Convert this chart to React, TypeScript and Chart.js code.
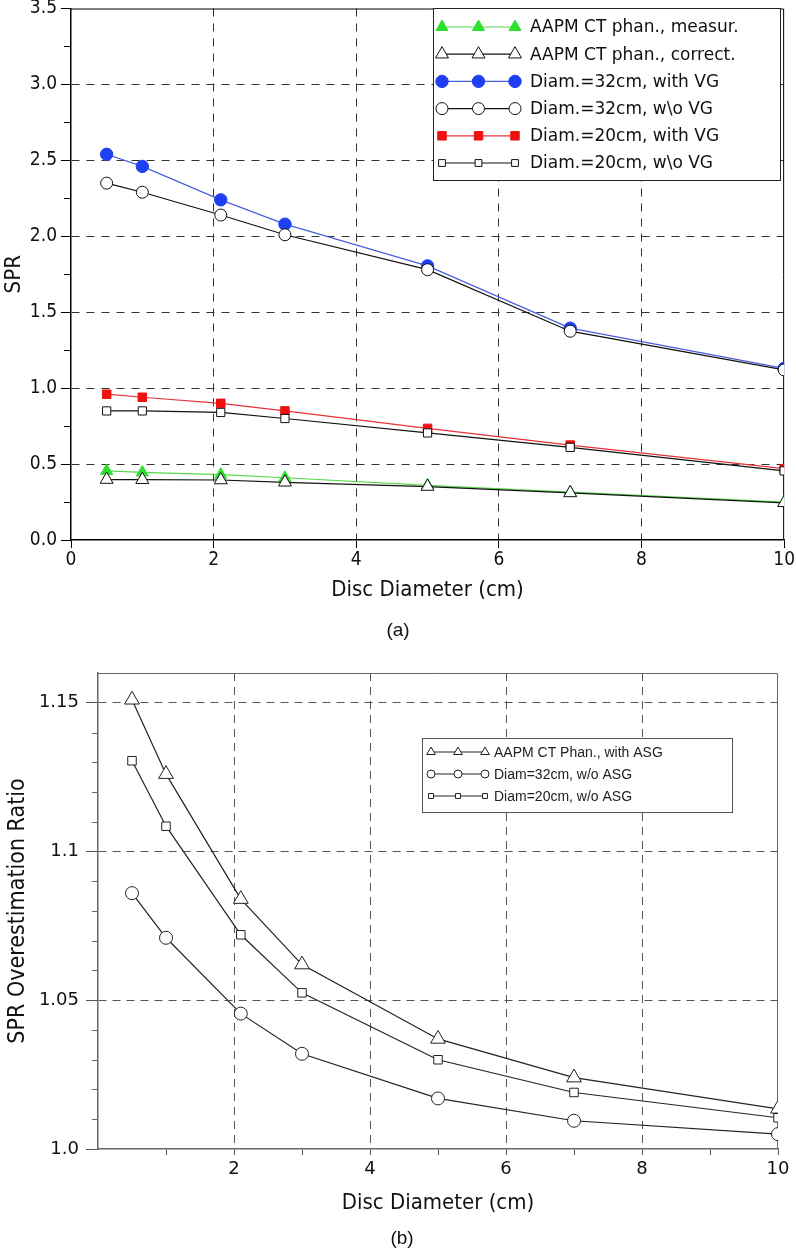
import React, { useEffect, useRef } from 'react';
import { Chart, registerables, PointElement } from 'chart.js';
Chart.register(...registerables);

// ---------- data: panel (a) ----------
const discDiameters = [0.5, 1, 2.1, 3, 5, 7, 10];
const aapmMeasured = [0.455, 0.445, 0.43, 0.41, 0.36, 0.315, 0.25];
const aapmCorrected = [0.398, 0.397, 0.395, 0.38, 0.352, 0.31, 0.245];
const d32WithVG = [2.54, 2.46, 2.24, 2.08, 1.805, 1.395, 1.13];
const d32WithoutVG = [2.35, 2.29, 2.14, 2.01, 1.78, 1.375, 1.12];
const d20WithVG = [0.96, 0.94, 0.9, 0.85, 0.735, 0.625, 0.47];
const d20WithoutVG = [0.85, 0.85, 0.84, 0.8, 0.705, 0.61, 0.455];
const topLegendLabels = [
  'AAPM CT phan., measur.',
  'AAPM CT phan., correct.',
  'Diam.=32cm, with VG',
  'Diam.=32cm, w\\o VG',
  'Diam.=20cm, with VG',
  'Diam.=20cm, w\\o VG',
];
const sprTickValues = [0, 0.5, 1, 1.5, 2, 2.5, 3, 3.5];
const sprTickLabels = ['0.0', '0.5', '1.0', '1.5', '2.0', '2.5', '3.0', '3.5'];
const sprMinorTickValues = [0.25, 0.75, 1.25, 1.75, 2.25, 2.75, 3.25];
const topXTickValues = [0, 2, 4, 6, 8, 10];
const topXTickLabels = ['0', '2', '4', '6', '8', '10'];

// ---------- data: panel (b) ----------
const ratioAAPM = [1.151, 1.126, 1.084, 1.062, 1.037, 1.024, 1.0135];
const ratio32 = [1.086, 1.071, 1.0455, 1.032, 1.017, 1.0095, 1.005];
const ratio20 = [1.1305, 1.1085, 1.072, 1.0525, 1.03, 1.019, 1.0105];
const bottomLegendLabels = ['AAPM CT Phan., with ASG', 'Diam=32cm, w/o ASG', 'Diam=20cm, w/o ASG'];
const ratioTickValues = [1.0, 1.05, 1.1, 1.15];
const ratioTickLabels = ['1.0', '1.05', '1.1', '1.15'];
const ratioMinorTickValues = [1.01, 1.02, 1.03, 1.04, 1.06, 1.07, 1.08, 1.09, 1.11, 1.12, 1.13, 1.14];
const bottomXTickValues = [1, 2, 3, 4, 5, 6, 7, 8, 9, 10];
const bottomXTickLabels = ['', '2', '', '4', '', '6', '', '8', '', '10'];

// ---------- styles ----------
const FONT_A = "'DejaVu Sans Condensed', 'DejaVu Sans', sans-serif";
const FONT_A_LEG = "'DejaVu Sans', sans-serif";
const FONT_B = "'DejaVu Sans', sans-serif";
const FONT_B_TITLE = "'DejaVu Sans Condensed', 'DejaVu Sans', sans-serif";
const FONT_B_LEG = "'Liberation Sans', Arial, sans-serif";

type Sty = { line: string; ps: string; r: number; lr: number; bg: string; bc: string; order: number };
const topStyles: Sty[] = [
  { line: '#5ad84c', ps: 'triangle', r: 7, lr: 7, bg: '#2de02d', bc: '#2de02d', order: 1 },
  { line: '#111111', ps: 'triangle', r: 7.5, lr: 7.5, bg: '#ffffff', bc: '#111111', order: 0 },
  { line: '#4a5ee0', ps: 'circle', r: 6.2, lr: 6.2, bg: '#1f3ff0', bc: '#1f3ff0', order: 1 },
  { line: '#111111', ps: 'circle', r: 6, lr: 6, bg: '#ffffff', bc: '#111111', order: 0 },
  { line: '#e8323a', ps: 'rect', r: 6, lr: 6, bg: '#f01010', bc: '#f01010', order: 1 },
  { line: '#111111', ps: 'rect', r: 5.8, lr: 4.8, bg: '#ffffff', bc: '#111111', order: 0 },
];
const bottomStyles: Sty[] = [
  { line: '#222222', ps: 'triangle', r: 8.5, lr: 5, bg: '#ffffff', bc: '#222222', order: 0 },
  { line: '#222222', ps: 'circle', r: 6.5, lr: 4, bg: '#ffffff', bc: '#222222', order: 0 },
  { line: '#222222', ps: 'rect', r: 6, lr: 3.5, bg: '#ffffff', bc: '#222222', order: 0 },
];

function pts(ys: number[]) {
  return discDiameters.map((x, i) => ({ x, y: ys[i] }));
}

function ds(label: string, ys: number[], s: Sty) {
  return {
    label,
    data: pts(ys),
    borderColor: s.line,
    borderWidth: 1.2,
    backgroundColor: s.bg,
    pointStyle: s.ps,
    pointRadius: s.r,
    pointBackgroundColor: s.bg,
    pointBorderColor: s.bc,
    pointBorderWidth: 1,
    tension: 0,
    fill: false,
    order: s.order,
  };
}

function marker(ctx: CanvasRenderingContext2D, x: number, y: number, s: Sty, r: number) {
  const p: any = new (PointElement as any)({
    x,
    y,
    options: {
      pointStyle: s.ps,
      radius: r,
      rotation: 0,
      borderWidth: 1,
      borderColor: s.bc,
      backgroundColor: s.bg,
    },
  });
  p.draw(ctx);
}

const transparent = 'rgba(0,0,0,0)';

const topDecor = {
  id: 'topDecor',
  beforeDatasetsDraw(chart: any) {
    const { ctx, chartArea: a, scales } = chart;
    ctx.save();
    ctx.strokeStyle = '#000';
    ctx.lineWidth = 1;
    ctx.beginPath();
    ctx.moveTo(a.left, a.top + 0.5);
    ctx.lineTo(a.right - 0.5, a.top + 0.5);
    ctx.lineTo(a.right - 0.5, a.bottom);
    ctx.stroke();
    ctx.beginPath();
    for (const v of sprMinorTickValues) {
      const py = Math.round(scales.y.getPixelForValue(v)) + 0.5;
      ctx.moveTo(a.left - 7, py);
      ctx.lineTo(a.left, py);
    }
    ctx.stroke();
    ctx.restore();
  },
  afterDraw(chart: any) {
    const { ctx } = chart;
    ctx.save();
    const bx = 433.5, by = 8.5, bw = 347, bh = 172;
    ctx.fillStyle = '#fff';
    ctx.fillRect(bx, by, bw, bh);
    ctx.strokeStyle = '#222';
    ctx.lineWidth = 1;
    ctx.strokeRect(bx, by, bw, bh);
    ctx.font = `17px ${FONT_A_LEG}`;
    ctx.textBaseline = 'middle';
    ctx.fillStyle = '#111';
    topLegendLabels.forEach((lab, i) => {
      const s = topStyles[i];
      const y = 27 + i * 27.2;
      ctx.strokeStyle = s.line;
      ctx.lineWidth = 1.2;
      ctx.beginPath();
      ctx.moveTo(442, y);
      ctx.lineTo(515, y);
      ctx.stroke();
      [442, 478.5, 515].forEach((x) => marker(ctx, x, y, s, s.lr));
      ctx.fillStyle = '#111';
      ctx.fillText(lab, 530, y + 1);
    });
    ctx.restore();
  },
};

const bottomDecor = {
  id: 'bottomDecor',
  beforeDatasetsDraw(chart: any) {
    const { ctx, chartArea: a, scales } = chart;
    ctx.save();
    ctx.strokeStyle = '#666';
    ctx.lineWidth = 1;
    ctx.beginPath();
    ctx.moveTo(a.left, a.top + 0.5);
    ctx.lineTo(a.right - 0.5, a.top + 0.5);
    ctx.lineTo(a.right - 0.5, a.bottom);
    ctx.stroke();
    ctx.beginPath();
    for (const v of ratioMinorTickValues) {
      const py = Math.round(scales.y.getPixelForValue(v)) + 0.5;
      ctx.moveTo(a.left - 6, py);
      ctx.lineTo(a.left, py);
    }
    ctx.stroke();
    ctx.restore();
  },
  afterDraw(chart: any) {
    const { ctx } = chart;
    ctx.save();
    const bx = 422.5, by = 88.5, bw = 310, bh = 74;
    ctx.fillStyle = '#fff';
    ctx.fillRect(bx, by, bw, bh);
    ctx.strokeStyle = '#555';
    ctx.lineWidth = 1;
    ctx.strokeRect(bx, by, bw, bh);
    ctx.font = `14px ${FONT_B_LEG}`;
    ctx.textBaseline = 'middle';
    bottomLegendLabels.forEach((lab, i) => {
      const s = bottomStyles[i];
      const y = 102 + i * 22;
      ctx.strokeStyle = s.line;
      ctx.lineWidth = 1;
      ctx.beginPath();
      ctx.moveTo(431, y);
      ctx.lineTo(485, y);
      ctx.stroke();
      [431, 458, 485].forEach((x) => marker(ctx, x, y, s, s.lr));
      ctx.fillStyle = '#222';
      ctx.fillText(lab, 494, y + 1);
    });
    ctx.restore();
  },
};

export default function App() {
  const topRef = useRef<HTMLCanvasElement>(null);
  const botRef = useRef<HTMLCanvasElement>(null);

  useEffect(() => {
    const top = new Chart(topRef.current as HTMLCanvasElement, {
      type: 'line',
      data: {
        datasets: [
          ds(topLegendLabels[0], aapmMeasured, topStyles[0]),
          ds(topLegendLabels[1], aapmCorrected, topStyles[1]),
          ds(topLegendLabels[2], d32WithVG, topStyles[2]),
          ds(topLegendLabels[3], d32WithoutVG, topStyles[3]),
          ds(topLegendLabels[4], d20WithVG, topStyles[4]),
          ds(topLegendLabels[5], d20WithoutVG, topStyles[5]),
        ] as any,
      },
      options: {
        animation: false,
        responsive: false,
        events: [],
        layout: { padding: { top: 3, right: 10, bottom: 45, left: 0 } },
        plugins: { legend: { display: false }, tooltip: { enabled: false } },
        scales: {
          x: {
            type: 'linear',
            min: 0,
            max: 10,
            afterBuildTicks: (s: any) => {
              s.ticks = topXTickValues.map((v) => ({ value: v }));
            },
            afterFit: (s: any) => {
              s.height = 65;
            },
            ticks: {
              autoSkip: false,
              maxRotation: 0,
              padding: 1,
              color: '#111',
              font: { family: FONT_A, size: 19 },
              callback: (_v: any, i: number) => topXTickLabels[i],
            },
            grid: {
              color: (c: any) => (c.tick && (c.tick.value === 0 || c.tick.value === 10) ? transparent : '#333'),
              lineWidth: 1,
              tickLength: 8,
              tickColor: '#000',
              tickWidth: 1,
              tickBorderDash: [],
            },
            border: { display: true, color: '#000', width: 1.5, dash: [8, 7] },
            title: {
              display: true,
              text: 'Disc Diameter (cm)',
              color: '#111',
              font: { family: FONT_A, size: 22 },
              padding: { top: 0, bottom: 2 },
            },
          },
          y: {
            type: 'linear',
            min: 0,
            max: 3.5,
            afterBuildTicks: (s: any) => {
              s.ticks = sprTickValues.map((v) => ({ value: v }));
            },
            afterFit: (s: any) => {
              s.width = 71;
              s.paddingTop = 0;
              s.paddingBottom = 0;
            },
            ticks: {
              padding: 4,
              color: '#111',
              font: { family: FONT_A, size: 19 },
              callback: (_v: any, i: number) => sprTickLabels[i],
            },
            grid: {
              color: (c: any) => (c.tick && (c.tick.value === 0 || c.tick.value === 3.5) ? transparent : '#333'),
              lineWidth: 1,
              tickLength: 10,
              tickColor: '#000',
              tickWidth: 1,
              tickBorderDash: [],
            },
            border: { display: true, color: '#000', width: 1.5, dash: [8, 7] },
            title: {
              display: true,
              text: 'SPR',
              color: '#111',
              font: { family: FONT_A, size: 22 },
              padding: { top: 1, bottom: 0 },
            },
          },
        },
      } as any,
      plugins: [topDecor],
    });

    const bot = new Chart(botRef.current as HTMLCanvasElement, {
      type: 'line',
      data: {
        datasets: [
          ds(bottomLegendLabels[0], ratioAAPM, bottomStyles[0]),
          ds(bottomLegendLabels[1], ratio32, bottomStyles[1]),
          ds(bottomLegendLabels[2], ratio20, bottomStyles[2]),
        ] as any,
      },
      options: {
        animation: false,
        responsive: false,
        events: [],
        layout: { padding: { top: 23, right: 18, bottom: 35, left: 0 } },
        plugins: { legend: { display: false }, tooltip: { enabled: false } },
        scales: {
          x: {
            type: 'linear',
            min: 0,
            max: 10,
            afterBuildTicks: (s: any) => {
              s.ticks = bottomXTickValues.map((v) => ({ value: v }));
            },
            afterFit: (s: any) => {
              s.height = 70;
              s.paddingLeft = 0;
            },
            ticks: {
              autoSkip: false,
              maxRotation: 0,
              padding: 4,
              color: '#111',
              font: { family: FONT_B, size: 18 },
              callback: (_v: any, i: number) => bottomXTickLabels[i],
            },
            grid: {
              color: (c: any) =>
                c.tick && c.tick.value % 2 === 0 && c.tick.value !== 10 ? '#555' : transparent,
              lineWidth: 1,
              tickLength: 6,
              tickColor: '#555',
              tickWidth: 1,
              tickBorderDash: [],
            },
            border: { display: true, color: '#666', width: 1.5, dash: [8, 6] },
            title: {
              display: true,
              text: 'Disc Diameter (cm)',
              color: '#111',
              font: { family: FONT_B_TITLE, size: 22 },
              padding: { top: 0, bottom: 3 },
            },
          },
          y: {
            type: 'linear',
            min: 1.0,
            max: 1.16,
            afterBuildTicks: (s: any) => {
              s.ticks = ratioTickValues.map((v) => ({ value: v }));
            },
            afterFit: (s: any) => {
              s.width = 98;
              s.paddingTop = 0;
              s.paddingBottom = 0;
            },
            ticks: {
              padding: 7,
              color: '#111',
              font: { family: FONT_B, size: 18 },
              callback: (_v: any, i: number) => ratioTickLabels[i],
            },
            grid: {
              color: (c: any) => (c.tick && c.tick.value > 1.001 ? '#555' : transparent),
              lineWidth: 1,
              tickLength: 12,
              tickColor: '#555',
              tickWidth: 1,
              tickBorderDash: [],
            },
            border: { display: true, color: '#666', width: 1.5, dash: [8, 6] },
            title: {
              display: true,
              text: 'SPR Overestimation Ratio',
              color: '#111',
              font: { family: FONT_B_TITLE, size: 23 },
              padding: { top: 4, bottom: 0 },
            },
          },
        },
      } as any,
      plugins: [bottomDecor],
    });

    return () => {
      top.destroy();
      bot.destroy();
    };
  }, []);

  const capStyle: React.CSSProperties = {
    position: 'absolute',
    width: 796,
    textAlign: 'center',
    font: "19px 'Liberation Sans', Arial, sans-serif",
    lineHeight: '22px',
    color: '#111',
  };

  return (
    <div style={{ position: 'absolute', left: 0, top: 0, width: 796, height: 1254, background: '#fff', overflow: 'hidden' }}>
      <canvas ref={topRef} width={796} height={650} style={{ position: 'absolute', left: 0, top: 0, width: 796, height: 650 }} />
      <div style={{ ...capStyle, left: 0, top: 619 }}>(a)</div>
      <canvas ref={botRef} width={796} height={604} style={{ position: 'absolute', left: 0, top: 650, width: 796, height: 604 }} />
      <div style={{ ...capStyle, left: 4, top: 1227 }}>(b)</div>
    </div>
  );
}
